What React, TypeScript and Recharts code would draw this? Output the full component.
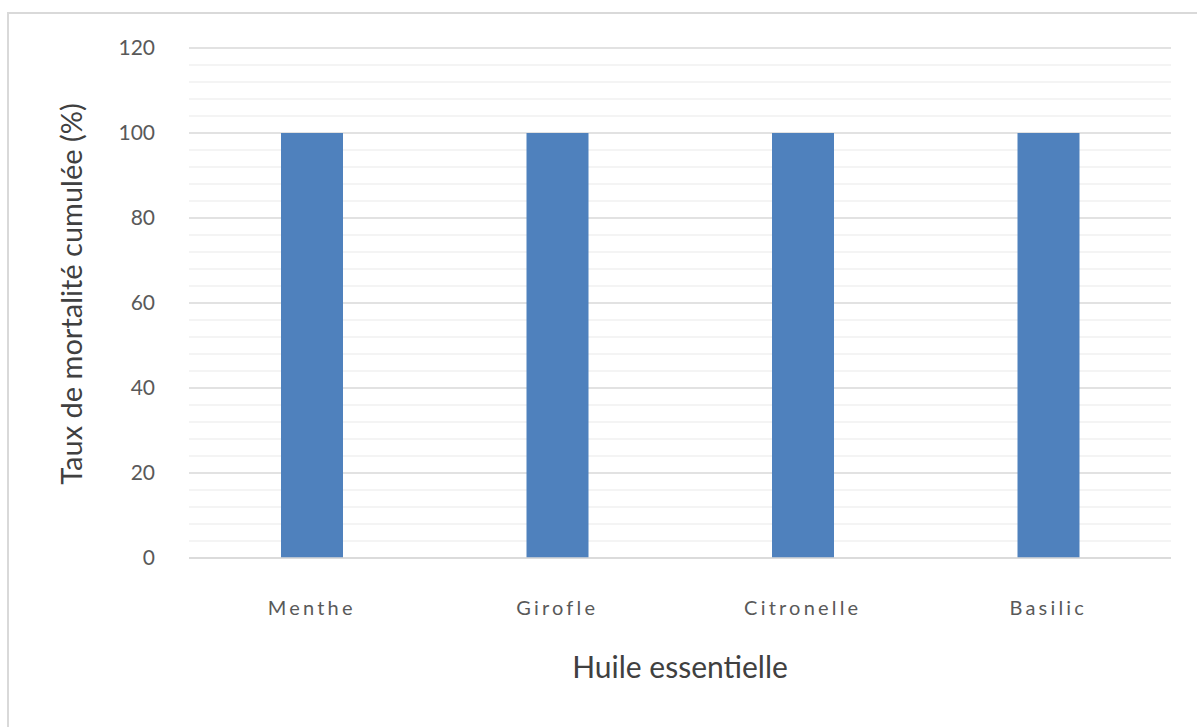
import React from "react";
import { BarChart, Bar, XAxis, YAxis, CartesianGrid, Label } from "recharts";

// Huiles essentielles testées
const categories = ["Menthe", "Girofle", "Citronelle", "Basilic"];
// Taux de mortalité cumulée (%)
const mortality = [100, 100, 100, 100];
const yTicks = [0, 20, 40, 60, 80, 100, 120];
const minorTicks = [
  4, 8, 12, 16, 24, 28, 32, 36, 44, 48, 52, 56, 64, 68, 72, 76, 84, 88, 92, 96,
  104, 108, 112, 116,
];
const Y_MAX = 120;

const data = categories.map((name, i) => ({ name, value: mortality[i] }));

const FONT = "Lato, 'Open Sans', sans-serif";

// minor gridlines placed through the y axis scale
const minorGenerator = (props: any) => {
  const scale = props?.yAxis?.scale;
  if (typeof scale === "function") return minorTicks.map((v) => scale(v));
  const { top, height } = props.offset;
  return minorTicks.map((v) => top + height * (1 - v / Y_MAX));
};

export default function App() {
  return (
    <div
      style={{
        position: "absolute",
        left: 0,
        top: 0,
        width: 1197,
        height: 727,
        background: "#fff",
        overflow: "hidden",
        fontFamily: FONT,
      }}
    >
      {/* chart frame, runs off the right and bottom edges */}
      <div
        style={{
          position: "absolute",
          left: 7,
          top: 12,
          width: 1220,
          height: 760,
          border: "2px solid #d9d9d9",
        }}
      />
      <div style={{ position: "absolute", left: 0, top: 0 }}>
        <BarChart
          width={1197}
          height={727}
          data={data}
          margin={{ top: 48, right: 26, bottom: 0, left: 0 }}
        >
          <CartesianGrid
            vertical={false}
            horizontalCoordinatesGenerator={minorGenerator}
            stroke="#f0f0f0"
            strokeWidth={1.5}
          />
          <CartesianGrid
            vertical={false}
            syncWithTicks
            stroke="#d9d9d9"
            strokeWidth={1.5}
          />
          <XAxis
            dataKey="name"
            height={169}
            axisLine={{ stroke: "#d9d9d9", strokeWidth: 1.5 }}
            tickLine={false}
            tickSize={0}
            tickMargin={43}
            tick={{
              fill: "#595959",
              fontSize: 20,
              letterSpacing: 3.2,
              fontFamily: FONT,
            }}
          >
            <Label
              value="Huile essentielle"
              position="insideTop"
              offset={99}
              fill="#404040"
              fontSize={30}
              fontFamily={FONT}
            />
          </XAxis>
          <YAxis
            width={189}
            domain={[0, Y_MAX]}
            ticks={yTicks}
            axisLine={false}
            tickLine={false}
            tickSize={0}
            tickMargin={34}
            tick={{ fill: "#595959", fontSize: 21, fontFamily: FONT }}
          >
            <Label
              value="Taux de mortalité cumulée (%)"
              angle={-90}
              position="insideLeft"
              offset={72}
              dy={-9}
              style={{ textAnchor: "middle" }}
              fill="#404040"
              fontSize={29}
              fontFamily={FONT}
            />
          </YAxis>
          <Bar
            dataKey="value"
            fill="#4f81bd"
            barSize={62}
            isAnimationActive={false}
          />
        </BarChart>
      </div>
    </div>
  );
}
